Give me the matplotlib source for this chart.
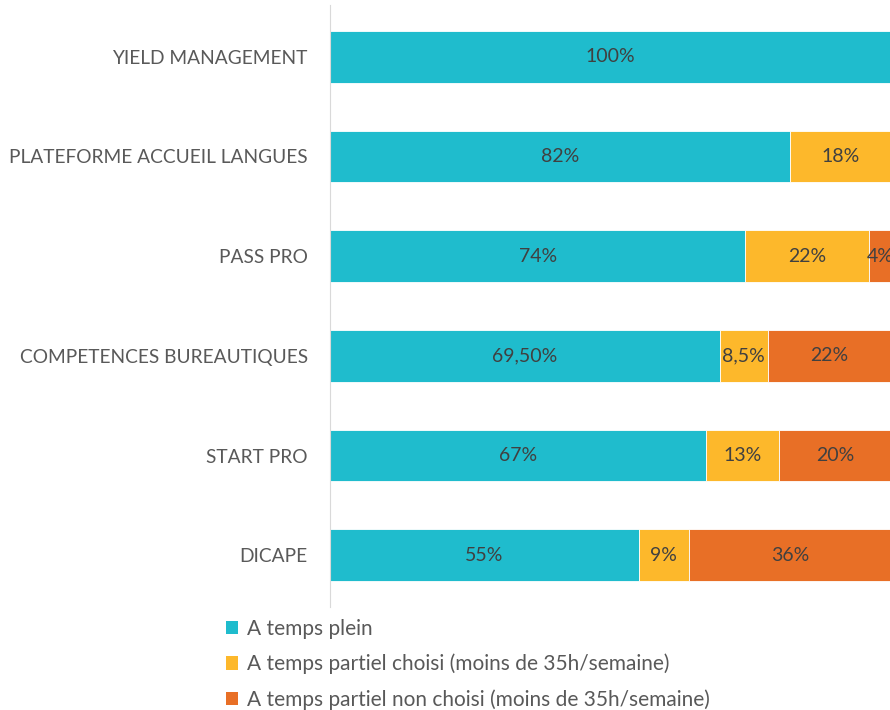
import matplotlib
matplotlib.use('Agg')
import matplotlib.pyplot as plt
from matplotlib.patches import Patch

# Données : répartition du temps de travail par formation (en %)
formations = ['YIELD MANAGEMENT', 'PLATEFORME ACCUEIL LANGUES', 'PASS PRO',
              'COMPETENCES BUREAUTIQUES', 'START PRO', 'DICAPE']
temps_plein = [100, 82, 74, 69.5, 67, 55]
partiel_choisi = [0, 18, 22, 8.5, 13, 9]
partiel_non_choisi = [0, 0, 4, 22, 20, 36]

etiquettes_plein = ['100%', '82%', '74%', '69,50%', '67%', '55%']
etiquettes_choisi = ['', '18%', '22%', '8,5%', '13%', '9%']
etiquettes_non_choisi = ['', '', '4%', '22%', '20%', '36%']

series = ['A temps plein',
          'A temps partiel choisi (moins de 35h/semaine)',
          'A temps partiel non choisi (moins de 35h/semaine)']
couleurs = ['#1FBCCD', '#FDB82B', '#E86F26']

plt.rcParams['font.family'] = ['Lato', 'DejaVu Sans']

fig = plt.figure(figsize=(8.9, 7.1), dpi=100)
ax = fig.add_axes([330 / 890, 1 - 607 / 710, 561 / 890, 602 / 710])

y = list(range(len(formations)))
gauche = [0] * len(formations)
for valeurs, etiquettes, couleur in zip(
        [temps_plein, partiel_choisi, partiel_non_choisi],
        [etiquettes_plein, etiquettes_choisi, etiquettes_non_choisi],
        couleurs):
    barres = ax.barh(y, valeurs, left=gauche, height=0.52, color=couleur,
                     edgecolor='white', linewidth=0.6)
    for b, txt in zip(barres, etiquettes):
        if txt:
            ax.text(b.get_x() + b.get_width() / 2, b.get_y() + b.get_height() / 2,
                    txt, ha='center', va='center', fontsize=14, color='#404040',
                    clip_on=False)
    gauche = [g + v for g, v in zip(gauche, valeurs)]

ax.set_xlim(0, 100)
ax.set_ylim(len(formations) - 0.48, -0.52)
ax.set_yticks(y)
ax.set_yticklabels(formations, fontsize=13.8, color='#595959')
ax.tick_params(axis='y', length=0, pad=16)
ax.set_xticks([])
for cote in ['top', 'right', 'bottom']:
    ax.spines[cote].set_visible(False)
ax.spines['left'].set_color('#D9D9D9')

poignees = [Patch(facecolor=c, edgecolor='none') for c in couleurs]
fig.legend(poignees, series, loc='upper left', bbox_to_anchor=(207 / 890, 1 - 600 / 710),
           frameon=False, fontsize=15, labelcolor='#595959',
           handlelength=0.6, handleheight=0.6, handletextpad=0.4, labelspacing=0.72)

fig.savefig('out.png', dpi=100)
